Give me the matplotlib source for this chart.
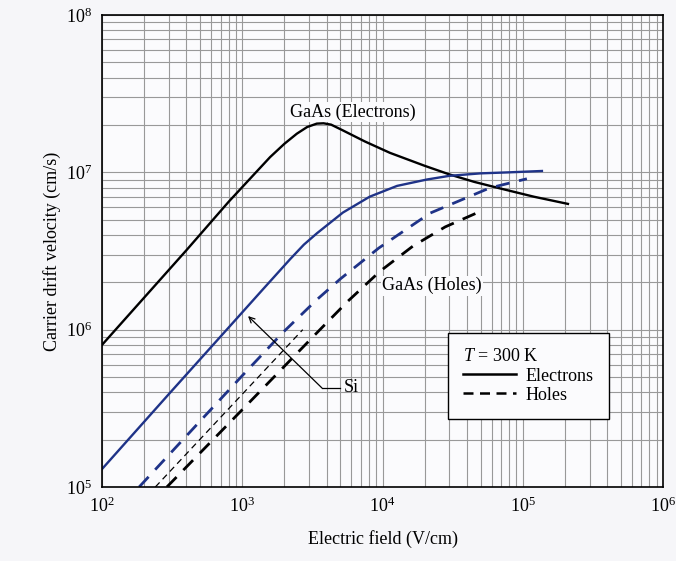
import matplotlib
matplotlib.use("Agg")
import matplotlib.pyplot as plt
from matplotlib.lines import Line2D

plt.rcParams['font.family'] = ['Liberation Serif', 'DejaVu Serif']
plt.rcParams['mathtext.fontset'] = 'custom'
plt.rcParams['mathtext.rm'] = 'Liberation Serif'
plt.rcParams['mathtext.it'] = 'Liberation Serif:italic'

# drift velocity curves at 300 K, field in V/cm, velocity in cm/s
gaas_e_field = [100, 200, 400, 800, 1200, 1580, 2000, 2450, 2900, 3400, 3800,
                4300, 5200, 7500, 11300, 20000, 30000, 45000, 69000, 120000,
                210000]
gaas_e_vel = [8.0e5, 1.6e6, 3.2e6, 6.5e6, 9.6e6, 1.25e7, 1.52e7, 1.76e7,
              1.94e7, 2.04e7, 2.05e7, 2.01e7, 1.85e7, 1.57e7, 1.33e7, 1.1e7,
              9.7e6, 8.7e6, 7.9e6, 7.0e6, 6.3e6]

si_e_field = [100, 300, 900, 1400, 2190, 2750, 3410, 5220, 8100, 12700, 20700,
              30000, 50000, 80000, 137000]
si_e_vel = [1.3e5, 3.9e5, 1.16e6, 1.8e6, 2.8e6, 3.47e6, 4.1e6, 5.55e6, 7.0e6,
            8.2e6, 9.0e6, 9.5e6, 9.85e6, 1.0e7, 1.02e7]

si_h_field = [184, 500, 1000, 1950, 3400, 5000, 9400, 21800, 58000, 107000]
si_h_vel = [1.0e5, 2.62e5, 5.1e5, 9.6e5, 1.55e6, 2.1e6, 3.3e6, 5.5e6,
            7.95e6, 9.1e6]

gaas_h_field = [290, 1000, 3580, 5680, 9600, 16500, 28000, 48800]
gaas_h_vel = [1.0e5, 3.1e5, 1.0e6, 1.52e6, 2.35e6, 3.4e6, 4.5e6, 5.6e6]

thin_field = [240, 2700]
thin_vel = [1.0e5, 1.0e6]

blue = '#1f3388'
bg = '#fbfbfd'

fig = plt.figure(figsize=(6.76, 5.61), dpi=100, facecolor='#f6f6f9')
ax = fig.add_axes([102 / 676, 1 - 487 / 561, 561 / 676, 472 / 561])
ax.set_facecolor(bg)
ax.set_xscale('log')
ax.set_yscale('log')
ax.set_xlim(1e2, 1e6)
ax.set_ylim(1e5, 1e8)

ax.grid(True, which='both', color='#999999', linewidth=0.8)
ax.set_axisbelow(True)
ax.tick_params(which='both', length=0, labelsize=13)
ax.tick_params(axis='x', pad=7)
ax.tick_params(axis='y', pad=7)
for s in ax.spines.values():
    s.set_linewidth(1.2)

ax.plot(gaas_e_field, gaas_e_vel, color='black', lw=1.7)
ax.plot(si_e_field, si_e_vel, color=blue, lw=1.7)
ax.plot(si_h_field, si_h_vel, color=blue, lw=2.0, dashes=(5, 3.5))
ax.plot(gaas_h_field, gaas_h_vel, color='black', lw=2.0, dashes=(5, 3.5))
ax.plot(thin_field, thin_vel, color='black', lw=0.9, dashes=(5, 3.5))

ax.text(6.17e3, 2.42e7, 'GaAs (Electrons)', fontsize=13, ha='center', va='center',
        bbox=dict(facecolor=bg, edgecolor='none', pad=1))
ax.text(2.25e4, 1.9e6, 'GaAs (Holes)', fontsize=13, ha='center', va='center',
        bbox=dict(facecolor=bg, edgecolor='none', pad=1))

# Si pointer: short horizontal run, then arrow up to the curve
ax.plot([4.98e3, 3.7e3], [4.26e5, 4.26e5], color='black', lw=0.9)
ax.annotate('', xy=(1.1e3, 1.22e6), xytext=(3.7e3, 4.26e5),
            arrowprops=dict(arrowstyle='->', color='black', lw=0.9,
                            shrinkA=0, shrinkB=0, mutation_scale=10))
ax.text(5.3e3, 4.26e5, 'Si', fontsize=13, ha='left', va='center')

handles = [Line2D([], [], color='black', lw=1.8),
           Line2D([], [], color='black', lw=1.8, dashes=(4, 2.6))]
leg = ax.legend(handles, ['Electrons', 'Holes'], title=r'$T$ = 300 K',
                loc='upper left', bbox_to_anchor=(0.617, 0.326),
                borderaxespad=0, fancybox=False, framealpha=1,
                edgecolor='black', fontsize=13, title_fontsize=13,
                handlelength=2.9, handletextpad=0.55, labelspacing=0.12,
                borderpad=0.85, alignment='left')
leg.get_frame().set_linewidth(1.0)
leg.get_frame().set_facecolor(bg)

ax.set_xlabel('Electric field (V/cm)', fontsize=13, labelpad=10)
ax.set_ylabel('Carrier drift velocity (cm/s)', fontsize=13, labelpad=4)

fig.savefig('out.png', dpi=100, facecolor=fig.get_facecolor())
